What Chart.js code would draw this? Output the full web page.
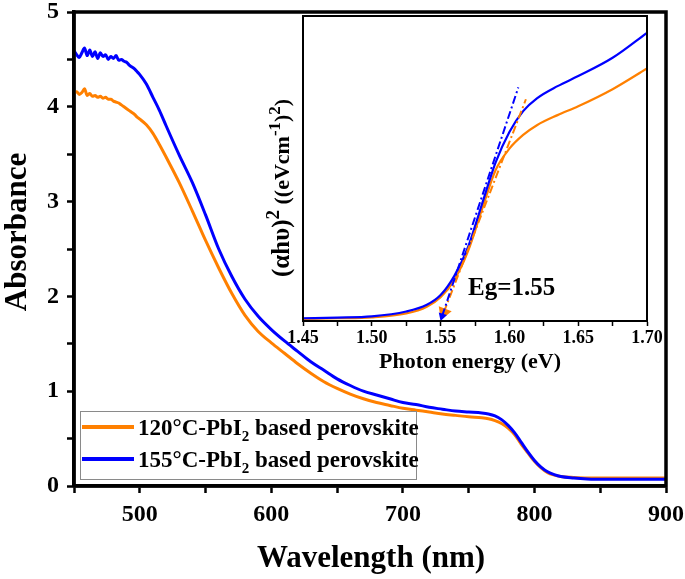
<!DOCTYPE html>
<html>
<head>
<meta charset="utf-8">
<script src="https://cdn.jsdelivr.net/npm/chart.js"></script>
<style>
  body { margin: 0; background: #fff; }
  #wrap { position: relative; width: 685px; height: 579px; }
  #mainChart { position: absolute; left: 0; top: 0; }
  #insetChart { position: absolute; left: 250px; top: 0; }
</style>
</head>
<body>
<div id="wrap">
  <canvas id="mainChart" width="685" height="579"></canvas>
  <canvas id="insetChart" width="430" height="380"></canvas>
</div>
<script>
// main plot: absorbance vs wavelength (nm)
const wavelength = [450, 452, 454, 456, 458, 460, 462, 464, 466, 468, 470, 472, 474, 476, 478, 480, 482, 484, 486, 488, 490, 492, 494, 496, 498, 500,
  505, 510, 515, 520, 530, 540, 550, 560, 570, 580, 590, 600, 610, 620, 630, 640, 650, 660, 670, 680, 690, 700, 710, 720, 730, 740, 750, 760,
  765, 770, 775, 780, 785, 790, 795, 800, 805, 810, 815, 820,
  830, 840, 850, 860, 870, 880, 890, 900];

const abs120 = [4.15, 4.16, 4.13, 4.15, 4.19, 4.12, 4.14, 4.11, 4.12, 4.10, 4.11, 4.09, 4.10, 4.08, 4.08, 4.06, 4.05, 4.04, 4.02, 4.00, 3.98, 3.96, 3.94, 3.92, 3.89, 3.87,
  3.81, 3.72, 3.60, 3.47, 3.20, 2.90, 2.59, 2.30, 2.03, 1.80, 1.63, 1.51, 1.40, 1.29, 1.19, 1.10, 1.03, 0.97, 0.92, 0.88, 0.85, 0.82, 0.80, 0.78, 0.76, 0.745, 0.73, 0.72,
  0.71, 0.69, 0.66, 0.61, 0.54, 0.44, 0.35, 0.26, 0.19, 0.14, 0.115, 0.10,
  0.09, 0.085, 0.085, 0.085, 0.085, 0.085, 0.085, 0.085];

const abs155 = [4.59, 4.55, 4.52, 4.57, 4.62, 4.54, 4.60, 4.53, 4.58, 4.51, 4.57, 4.53, 4.55, 4.50, 4.53, 4.51, 4.54, 4.49, 4.50, 4.48, 4.47, 4.44, 4.42, 4.40, 4.37, 4.34,
  4.24, 4.10, 3.96, 3.80, 3.49, 3.20, 2.86, 2.50, 2.21, 1.97, 1.79, 1.65, 1.53, 1.42, 1.31, 1.22, 1.13, 1.06, 1.00, 0.96, 0.92, 0.88, 0.86, 0.83, 0.81, 0.79, 0.78, 0.77,
  0.76, 0.74, 0.70, 0.64, 0.56, 0.46, 0.36, 0.27, 0.20, 0.15, 0.12, 0.10,
  0.085, 0.075, 0.07, 0.07, 0.07, 0.07, 0.07, 0.07];

const seriesLabels = ['120°C-PbI', '155°C-PbI'];
const seriesColors = ['#ff8000', '#0000ff'];

// inset: tauc plot vs photon energy (eV), arbitrary y units
const energy = [1.45, 1.475, 1.50, 1.525, 1.54, 1.55, 1.56, 1.57, 1.58, 1.59, 1.60, 1.61, 1.62, 1.635, 1.65, 1.675, 1.70];
const tauc120 = [0.7, 0.9, 1.2, 2.5, 4.7, 7.8, 13.5, 23, 36.5, 49.5, 56.5, 61, 64.2, 67.5, 70.4, 76, 82.8];
const tauc155 = [0.9, 1.1, 1.5, 3.1, 5.3, 8.5, 14.8, 24.3, 38.2, 52, 62, 68.8, 73, 77, 80.3, 86.3, 94.5];

// tangent (fit) lines down to Eg
const tan120X = [1.5523, 1.612];
const tan120Y = [2.8, 72.7];
const tan155X = [1.5511, 1.6065];
const tan155Y = [1.6, 76.6];

const serif = '"Liberation Serif", "Times New Roman", serif';

function toPoints(xs, ys) {
  return xs.map(function (x, i) { return { x: x, y: ys[i] }; });
}

// fixed axis size, and no extra room asked for by the tick labels
function fixSize(w, h) {
  return function (s) {
    if (w !== null) s.width = w;
    if (h !== null) s.height = h;
    s.paddingLeft = 0;
    s.paddingRight = 0;
    s.paddingTop = 0;
    s.paddingBottom = 0;
  };
}

// draws text pieces one after another, with raise/lower for sup and sub
function drawRich(ctx, parts) {
  let x = 0;
  parts.forEach(function (p) {
    ctx.font = 'bold ' + p.size + 'px ' + serif;
    ctx.fillText(p.text, x, -(p.rise || 0));
    x += ctx.measureText(p.text).width;
  });
}

const mainExtras = {
  id: 'mainExtras',
  afterDatasetsDraw(chart) {
    const a = chart.chartArea;
    const ctx = chart.ctx;
    ctx.save();
    ctx.strokeStyle = '#000';
    ctx.lineWidth = 3.5;
    ctx.strokeRect(a.left, a.top, a.right - a.left, a.bottom - a.top);
    ctx.restore();
  },
  afterDraw(chart) {
    const ctx = chart.ctx;
    ctx.save();
    ctx.fillStyle = '#000';
    ctx.textBaseline = 'alphabetic';

    // x title
    ctx.textAlign = 'center';
    ctx.font = 'bold 31px ' + serif;
    ctx.fillText('Wavelength (nm)', 371, 567);

    // y title
    ctx.save();
    ctx.translate(26, 232);
    ctx.rotate(-Math.PI / 2);
    ctx.font = 'bold 31px ' + serif;
    ctx.fillText('Absorbance', 0, 0);
    ctx.restore();

    // legend box
    ctx.fillStyle = '#fff';
    ctx.fillRect(80, 411, 336, 68);
    ctx.strokeStyle = '#8a8a8a';
    ctx.lineWidth = 1;
    ctx.strokeRect(80.5, 411.5, 336, 68);

    const rows = [427, 459];
    seriesLabels.forEach(function (lab, i) {
      ctx.strokeStyle = seriesColors[i];
      ctx.lineWidth = 4;
      ctx.beginPath();
      ctx.moveTo(82, rows[i]);
      ctx.lineTo(134, rows[i]);
      ctx.stroke();
      ctx.save();
      ctx.fillStyle = '#000';
      ctx.textAlign = 'left';
      ctx.translate(138, rows[i] + 8);
      drawRich(ctx, [
        { text: lab, size: 23 },
        { text: '2', size: 15, rise: -6 },
        { text: ' based perovskite', size: 23 }
      ]);
      ctx.restore();
    });
    ctx.restore();
  }
};

const insetExtras = {
  id: 'insetExtras',
  afterDatasetsDraw(chart) {
    const a = chart.chartArea;
    const ctx = chart.ctx;
    ctx.save();
    ctx.strokeStyle = '#000';
    ctx.lineWidth = 2;
    ctx.strokeRect(a.left, a.top, a.right - a.left, a.bottom - a.top);
    ctx.restore();
  },
  afterDraw(chart) {
    const ctx = chart.ctx;
    ctx.save();
    ctx.fillStyle = '#000';
    ctx.textBaseline = 'alphabetic';
    ctx.textAlign = 'center';
    ctx.font = 'bold 22px ' + serif;
    ctx.fillText('Photon energy (eV)', 220, 368);

    ctx.textAlign = 'left';
    ctx.font = 'bold 25px ' + serif;
    ctx.fillText('Eg=1.55', 218, 295);

    // rotated y title
    ctx.translate(39, 277);
    ctx.rotate(-Math.PI / 2);
    drawRich(ctx, [
      { text: '(\u03b1h\u03c5)', size: 25 },
      { text: '2', size: 19, rise: 10 },
      { text: ' ((eVcm', size: 22 },
      { text: '-1', size: 17, rise: 9 },
      { text: ')', size: 22 },
      { text: '2', size: 17, rise: 9 },
      { text: ')', size: 22 }
    ]);
    ctx.restore();
  }
};

// main chart
new Chart(document.getElementById('mainChart'), {
  type: 'line',
  data: {
    datasets: [
      {
        label: seriesLabels[0],
        data: toPoints(wavelength, abs120),
        borderColor: seriesColors[0],
        borderWidth: 3,
        pointRadius: 0,
        cubicInterpolationMode: 'monotone',
        order: 2
      },
      {
        label: seriesLabels[1],
        data: toPoints(wavelength, abs155),
        borderColor: seriesColors[1],
        borderWidth: 3,
        pointRadius: 0,
        cubicInterpolationMode: 'monotone',
        order: 1
      }
    ]
  },
  options: {
    responsive: false,
    animation: false,
    layout: { padding: { top: 12, right: 19, left: 0, bottom: 0 } },
    plugins: { legend: { display: false }, tooltip: { enabled: false } },
    scales: {
      x: {
        type: 'linear', min: 450, max: 900,
        afterFit: fixSize(null, 93),
        border: { display: true, color: '#000', width: 3.5 },
        grid: { display: true, drawOnChartArea: false, drawTicks: true, tickLength: 7, tickWidth: 2.5, tickColor: '#000' },
        ticks: {
          stepSize: 50, autoSkip: false, maxRotation: 0, padding: 7, color: '#000',
          font: { family: serif, size: 24, weight: 'bold' },
          callback: function (v) { return v % 100 === 0 ? v : ''; }
        }
      },
      y: {
        min: 0, max: 5,
        afterFit: fixSize(74, null),
        border: { display: true, color: '#000', width: 3.5 },
        grid: { display: true, drawOnChartArea: false, drawTicks: true, tickLength: 7, tickWidth: 2.5, tickColor: '#000' },
        ticks: {
          stepSize: 0.5, autoSkip: false, padding: 8, color: '#000',
          font: { family: serif, size: 24, weight: 'bold' },
          callback: function (v) { return Number.isInteger(v) ? v : ''; }
        }
      }
    }
  },
  plugins: [mainExtras]
});

// inset chart
new Chart(document.getElementById('insetChart'), {
  type: 'line',
  data: {
    datasets: [
      {
        data: toPoints(tan155X, tan155Y),
        borderColor: seriesColors[1],
        borderWidth: 2,
        borderDash: [8, 3, 2, 3],
        pointStyle: 'triangle',
        pointRadius: function (c) { return c.dataIndex === 0 ? 5 : 0; },
        pointRotation: 198,
        pointBackgroundColor: seriesColors[1],
        pointBorderWidth: 0,
        clip: false,
        order: 1
      },
      {
        data: toPoints(tan120X, tan120Y),
        borderColor: seriesColors[0],
        borderWidth: 2,
        borderDash: [8, 3, 2, 3],
        pointStyle: 'triangle',
        pointRadius: function (c) { return c.dataIndex === 0 ? 8 : 0; },
        pointRotation: 201,
        pointBackgroundColor: seriesColors[0],
        pointBorderWidth: 0,
        clip: false,
        order: 2
      },
      {
        data: toPoints(energy, tauc155),
        borderColor: seriesColors[1],
        borderWidth: 2.2,
        pointRadius: 0,
        cubicInterpolationMode: 'monotone',
        order: 3
      },
      {
        data: toPoints(energy, tauc120),
        borderColor: seriesColors[0],
        borderWidth: 2.2,
        pointRadius: 0,
        cubicInterpolationMode: 'monotone',
        order: 4
      }
    ]
  },
  options: {
    responsive: false,
    animation: false,
    layout: { padding: { top: 16, right: 33, left: 0, bottom: 0 } },
    plugins: { legend: { display: false }, tooltip: { enabled: false } },
    scales: {
      x: {
        type: 'linear', min: 1.45, max: 1.70,
        afterFit: fixSize(null, 59),
        border: { display: true, color: '#000', width: 2 },
        grid: { display: true, drawOnChartArea: false, drawTicks: true, tickLength: 5, tickWidth: 1.5, tickColor: '#000' },
        ticks: {
          stepSize: 0.025, autoSkip: false, maxRotation: 0, padding: 2, color: '#000',
          font: { family: serif, size: 18, weight: 'bold' },
          callback: function (v) {
            const k = Math.round(v * 1000);
            return k % 50 === 0 ? (k / 1000).toFixed(2) : '';
          }
        }
      },
      y: {
        min: 0, max: 100,
        afterFit: fixSize(53, null),
        border: { display: true, color: '#000', width: 2 },
        grid: { display: false },
        ticks: { display: false }
      }
    }
  },
  plugins: [insetExtras]
});
</script>
</body>
</html>
